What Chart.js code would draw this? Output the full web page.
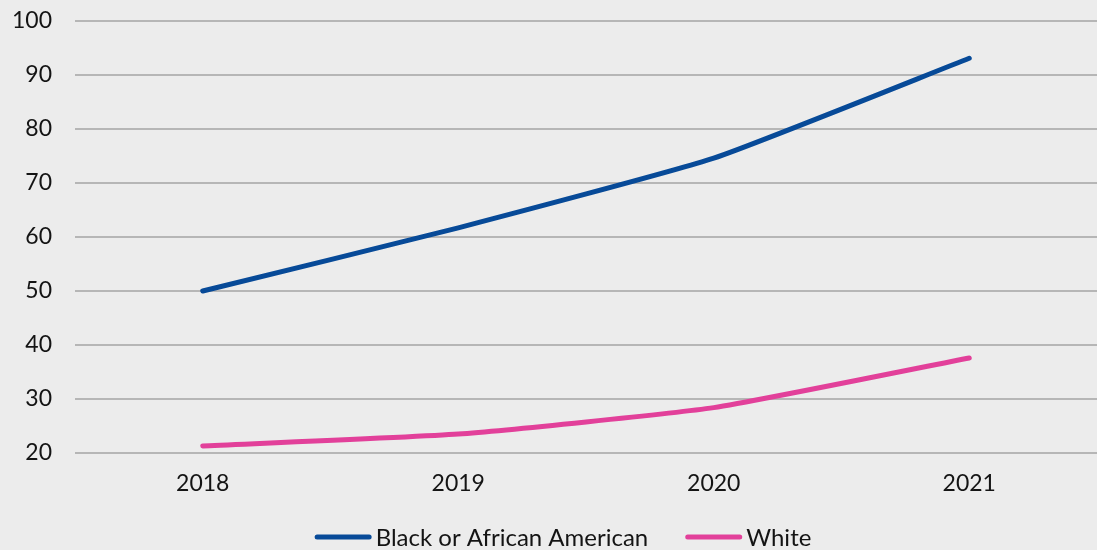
<!DOCTYPE html>
<html><head><meta charset="utf-8">
<script src="https://cdn.jsdelivr.net/npm/chart.js@4"></script>
<style>html,body{margin:0;padding:0;background:#ececec;}#wrap{width:1097px;height:550px;}</style>
</head><body><div id="wrap"><canvas id="c" width="1097" height="550"></canvas></div>
<script>
const categories = ['2018', '2019', '2020', '2021'];
const seriesNames = ['Black or African American', 'White'];
const blackValues = [50.0, 61.7, 74.6, 93.1];
const whiteValues = [21.3, 23.5, 28.4, 37.6];
const yTicks = [20, 30, 40, 50, 60, 70, 80, 90, 100];

const FONT = 'Lato, "Open Sans", sans-serif';
const TEXT = '#141414';

const bottomLegend = {
  id: 'bottomLegend',
  afterDraw(chart) {
    const ctx = chart.ctx;
    const ds = chart.data.datasets;
    ctx.save();
    ctx.font = '24px ' + FONT;
    const markerW = 57, textGap = 4, itemGap = 37;
    const widths = ds.map(d => markerW + textGap + ctx.measureText(d.label).width);
    const total = widths.reduce((a, b) => a + b, 0) + itemGap * (ds.length - 1);
    let x = 563 - total / 2;
    const y = 537;
    ds.forEach((d, i) => {
      ctx.strokeStyle = d.borderColor;
      ctx.lineWidth = 5;
      ctx.lineCap = 'round';
      ctx.beginPath();
      ctx.moveTo(x + 2.5, y);
      ctx.lineTo(x + markerW - 2.5, y);
      ctx.stroke();
      ctx.fillStyle = TEXT;
      ctx.textBaseline = 'middle';
      ctx.textAlign = 'left';
      ctx.fillText(d.label, x + markerW + textGap, y + 1);
      x += widths[i] + itemGap;
    });
    ctx.restore();
  }
};

new Chart(document.getElementById('c'), {
  type: 'line',
  data: {
    labels: categories,
    datasets: [
      {label: seriesNames[0], data: blackValues, borderColor: '#074a98', backgroundColor: '#074a98', borderWidth: 5, borderCapStyle: 'round', pointRadius: 0, tension: 0.15},
      {label: seriesNames[1], data: whiteValues, borderColor: '#e2409a', backgroundColor: '#e2409a', borderWidth: 5, borderCapStyle: 'round', pointRadius: 0, tension: 0.15}
    ]
  },
  plugins: [bottomLegend],
  options: {
    responsive: false,
    animation: false,
    devicePixelRatio: 1,
    layout: {padding: {top: 21, right: 0, left: 0, bottom: 37}},
    plugins: {
      tooltip: {enabled: false},
      legend: {display: false}
    },
    scales: {
      x: {
        offset: true,
        grid: {display: false, drawTicks: false},
        border: {display: false},
        ticks: {color: TEXT, font: {family: FONT, size: 23}, padding: 17},
        afterFit: s => { s.height = 60; s.paddingLeft = 0; s.paddingRight = 0; }
      },
      y: {
        min: 20, max: 100,
        afterBuildTicks: s => { s.ticks = yTicks.map(v => ({value: v})); },
        grid: {color: '#b6b6b6', lineWidth: 2, drawTicks: false},
        border: {display: false},
        ticks: {color: TEXT, font: {family: FONT, size: 23}, padding: 23},
        afterFit: s => { s.width = 75; s.paddingTop = 0; s.paddingBottom = 0; }
      }
    }
  }
});
</script></body></html>
